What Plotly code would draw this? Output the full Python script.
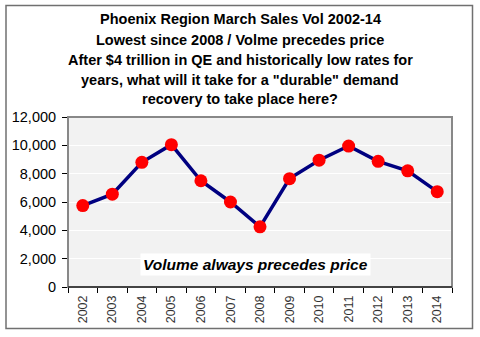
import plotly.graph_objects as go

years = ["2002", "2003", "2004", "2005", "2006", "2007", "2008",
         "2009", "2010", "2011", "2012", "2013", "2014"]
volume = [5750, 6550, 8800, 10050, 7500, 6000, 4250,
          7650, 8950, 9950, 8870, 8200, 6730]
y_ticks = [0, 2000, 4000, 6000, 8000, 10000, 12000]
y_tick_labels = ["0", "2,000", "4,000", "6,000", "8,000", "10,000", "12,000"]
title_lines = [
    "Phoenix Region March Sales Vol 2002-14",
    "Lowest since 2008 / Volme precedes price",
    "After $4 trillion in QE and historically low rates for",
    "years, what will it take for a \"durable\" demand",
    "recovery to take place here?",
]
note = "Volume always precedes price"

W, H = 480, 337
L, R, T, B = 68, 28, 117, 50
pw, ph = W - L - R, H - T - B

def px_x(x):
    return (x - L) / pw

def px_y(y):
    return (H - B - y) / ph

fig = go.Figure()
fig.add_trace(go.Scatter(
    x=list(range(len(years))), y=volume, mode="lines+markers",
    line=dict(color="#000080", width=3.5),
    marker=dict(color="#ff0000", size=13, line=dict(width=0)),
    cliponaxis=False, hoverinfo="skip",
))

annotations = []
title_y = [19, 40, 60, 80, 99]
for txt, yy in zip(title_lines, title_y):
    annotations.append(dict(
        text="<b>" + txt + "</b>", x=px_x(240), y=px_y(yy), xref="paper", yref="paper",
        showarrow=False, xanchor="center", yanchor="middle",
        font=dict(family="Liberation Sans, Arial", size=14.5, color="#000000"),
    ))
annotations.append(dict(
    text="<b><i>" + note + "</i></b>", x=px_x(255), y=px_y(264), xref="paper", yref="paper",
    showarrow=False, xanchor="center", yanchor="middle",
    font=dict(family="Liberation Sans, Arial", size=15.5, color="#000000"),
    bgcolor="#ffffff", borderpad=2,
))

shapes = [
    dict(type="rect", xref="paper", yref="paper",
         x0=px_x(6), x1=px_x(472.5), y0=px_y(328.5), y1=px_y(5.5),
         line=dict(color="#707070", width=1.5), layer="below"),
    dict(type="rect", xref="paper", yref="paper",
         x0=0, x1=1, y0=0, y1=1,
         line=dict(color="#888888", width=2), layer="above"),
]

fig.update_layout(
    width=W, height=H, margin=dict(l=L, r=R, t=T, b=B, pad=0),
    paper_bgcolor="#ffffff", plot_bgcolor="#f2f2f2",
    showlegend=False, annotations=annotations, shapes=shapes,
    font=dict(family="Liberation Sans, Arial", size=13, color="#000000"),
    xaxis=dict(
        range=[-0.5, len(years) - 0.5], tickmode="array",
        tickvals=list(range(len(years))), ticktext=years, tickangle=-90,
        showgrid=False, zeroline=False, showline=False,
        ticks="", tickfont=dict(size=12.5, color="#333333"), ticklabelstandoff=5,
        minor=dict(tickmode="array", tickvals=[i - 0.5 for i in range(len(years) + 1)],
                   ticks="outside", ticklen=5, tickcolor="#000000", showgrid=False),
        fixedrange=True,
    ),
    yaxis=dict(
        range=[0, 12000], tickmode="array", tickvals=y_ticks, ticktext=y_tick_labels,
        showgrid=True, gridcolor="#ffffff", gridwidth=1, zeroline=False,
        showline=True, linecolor="#000000", linewidth=1,
        ticks="outside", ticklen=5, tickcolor="#000000",
        tickfont=dict(size=14.5, color="#000000"), ticklabelstandoff=3, fixedrange=True,
    ),
)
fig.add_shape(type="line", xref="paper", yref="paper", x0=0, x1=1, y0=0, y1=0,
              line=dict(color="#000000", width=1))

fig.write_html("out.html")
